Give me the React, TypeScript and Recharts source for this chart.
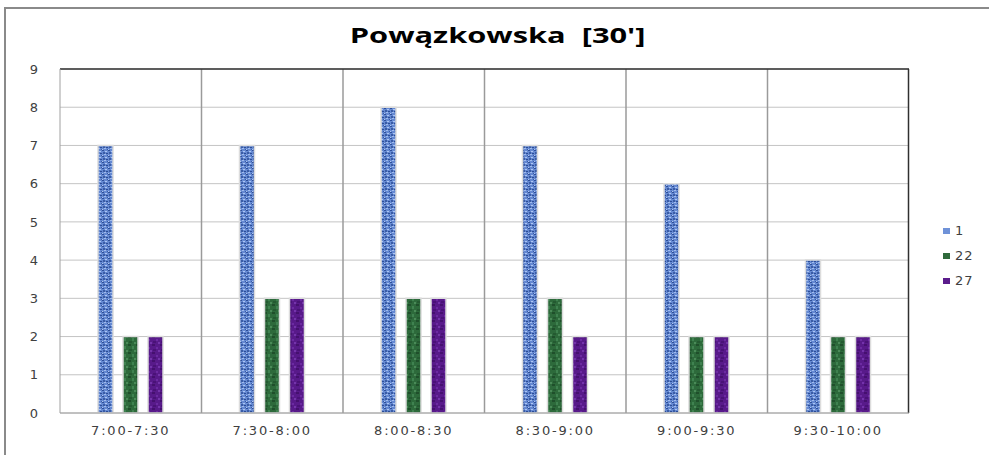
import React from 'react';
import { BarChart, Bar, XAxis, YAxis, CartesianGrid, Legend, ReferenceLine } from 'recharts';

const categories = ['7:00-7:30', '7:30-8:00', '8:00-8:30', '8:30-9:00', '9:00-9:30', '9:30-10:00'];
const series1 = [7, 7, 8, 7, 6, 4];
const series22 = [2, 3, 3, 3, 2, 2];
const series27 = [2, 3, 3, 2, 2, 2];
const yTicks = [0, 1, 2, 3, 4, 5, 6, 7, 8, 9];
const seriesNames = ['1', '22', '27'];
const seriesKeys = ['s1', 's22', 's27'];
const seriesFills = ['url(#patBlue)', 'url(#patGreen)', 'url(#patPurple)'];
const legendColors = ['#6f92d8', '#2f6a3c', '#5b1c8c'];

const data = categories.map((c, i) => ({
  cat: c,
  s1: series1[i],
  s22: series22[i],
  s27: series27[i],
}));

const FONT = '"DejaVu Sans", Verdana, sans-serif';

const LegendContent = () => (
  <div style={{ width: 80, paddingLeft: 34, boxSizing: 'border-box', fontFamily: FONT, fontSize: 13, color: '#404040' }}>
    {seriesNames.map((n, i) => (
      <div key={n} style={{ display: 'flex', alignItems: 'center', height: 25 }}>
        <span style={{ display: 'inline-block', width: 7, height: 6, background: legendColors[i], marginRight: 5 }} />
        <span style={{ letterSpacing: 1 }}>{n}</span>
      </div>
    ))}
  </div>
);

const XTick = (props: any) => {
  const { x, y, payload } = props;
  return (
    <text x={x} y={y} textAnchor="middle" fontFamily={FONT} fontSize={13} fill="#404040" letterSpacing={1.8} dy={14}>
      {payload.value}
    </text>
  );
};

export default function App() {
  return (
    <div style={{ position: 'absolute', left: 0, top: 0, width: 989, height: 455, background: '#fff', overflow: 'hidden' }}>
      <svg width={989} height={455} style={{ position: 'absolute', left: 0, top: 0 }}>
        <polyline points="5,455 5,8 989,8" fill="none" stroke="#8a8a8a" strokeWidth={2} />
      </svg>
      <div
        style={{
          position: 'absolute',
          left: 0,
          width: 989,
          top: 19,
          textAlign: 'center',
          fontFamily: '"Open Sans", sans-serif',
          fontWeight: 700,
          fontSize: 22,
          color: '#000',
          whiteSpace: 'pre',
        }}
      >
        <span style={{ display: 'inline-block', transform: 'scaleX(1.4)', marginLeft: 6 }}>{'Powązkowska  [30\']'}</span>
      </div>
      <div style={{ position: 'absolute', left: 0, top: 0 }}>
        <BarChart width={989} height={455} data={data} margin={{ top: 69, right: 0, left: 0, bottom: 0 }} barSize={15} barGap={10}>
          <defs>
            <pattern id="patBlue" patternUnits="userSpaceOnUse" width="6" height="6">
              <rect width="6" height="6" fill="#6589d2" />
              <rect x="0" y="0" width="2" height="1" fill="#2f5099" />
              <rect x="3" y="1" width="2" height="1" fill="#aec6f2" />
              <rect x="1" y="2" width="2" height="2" fill="#3a5ca5" />
              <rect x="4" y="3" width="2" height="1" fill="#2c4d96" />
              <rect x="2" y="4" width="2" height="1" fill="#a0bbec" />
              <rect x="0" y="5" width="1" height="1" fill="#aec6f2" />
              <rect x="5" y="5" width="1" height="1" fill="#3a5ca5" />
            </pattern>
            <pattern id="patGreen" patternUnits="userSpaceOnUse" width="8" height="8">
              <rect width="8" height="8" fill="#2d6a3b" />
              <rect x="0" y="0" width="3" height="2" fill="#1f4f2b" />
              <rect x="4" y="2" width="2" height="3" fill="#3f8250" />
              <rect x="1" y="5" width="3" height="2" fill="#245a31" />
              <rect x="6" y="6" width="2" height="2" fill="#4a8a58" />
            </pattern>
            <pattern id="patPurple" patternUnits="userSpaceOnUse" width="8" height="8">
              <rect width="8" height="8" fill="#581a8a" />
              <rect x="0" y="0" width="3" height="2" fill="#45106f" />
              <rect x="4" y="3" width="2" height="2" fill="#6c2aa2" />
              <rect x="1" y="5" width="3" height="2" fill="#4a1278" />
              <rect x="6" y="6" width="2" height="2" fill="#7434ab" />
            </pattern>
          </defs>
          <CartesianGrid vertical={false} stroke="#c4c4c4" strokeWidth={1} />
          <CartesianGrid
            horizontal={false}
            stroke="#9a9a9a"
            strokeWidth={1.5}
            verticalCoordinatesGenerator={({ offset }: any) =>
              [1, 2, 3, 4, 5].map((i) => offset.left + (offset.width * i) / categories.length)
            }
          />
          <CartesianGrid
            horizontal={false}
            stroke="#303030"
            strokeWidth={1.5}
            verticalCoordinatesGenerator={({ offset }: any) => [offset.left + offset.width - 0.5]}
          />
          <XAxis
            dataKey="cat"
            height={42}
            tickLine={false}
            axisLine={{ stroke: '#a0a0a0' }}
            tick={<XTick />}
            interval={0}
          />
          <YAxis
            width={60}
            domain={[0, 9]}
            ticks={yTicks}
            tickLine={false}
            tickSize={0}
            tickMargin={22}
            axisLine={{ stroke: '#a0a0a0' }}
            tick={{ fontFamily: FONT, fontSize: 13, fill: '#404040' }}
            interval={0}
          />
          <ReferenceLine y={9} stroke="#303030" strokeWidth={1.5} />
          <Legend
            layout="vertical"
            align="right"
            verticalAlign="middle"
            content={<LegendContent />}
            wrapperStyle={{ top: 218, right: 0, width: 80 }}
          />
          {seriesKeys.map((k, i) => (
            <Bar
              key={k}
              dataKey={k}
              name={seriesNames[i]}
              fill={seriesFills[i]}
              stroke="#dcdcdc"
              strokeWidth={1.5}
              isAnimationActive={false}
            />
          ))}
        </BarChart>
      </div>
    </div>
  );
}
